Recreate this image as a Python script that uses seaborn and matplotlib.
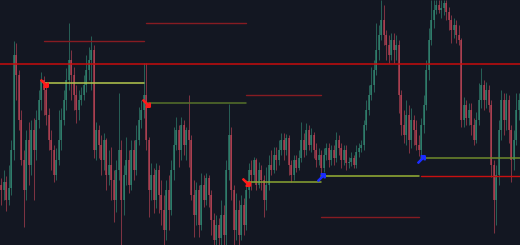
import numpy as np
import pandas as pd
import matplotlib
matplotlib.use("Agg")
import matplotlib.pyplot as plt
import seaborn as sns

# Values, in screen units (0 = top of chart, 245 = bottom)
first_open = 185
close = [
    190, 182, 200, 188, 150, 55, 75, 120, 160, 190,
    140, 165, 130, 150, 120, 100, 80, 90, 115, 140,
    150, 175, 160, 140, 120, 100, 80, 60, 75, 95,
    110, 100, 95, 85, 70, 60, 50, 150, 130, 145,
    160, 140, 175, 165, 180, 200, 170, 150, 200, 175,
    160, 185, 150, 170, 140, 120, 110, 95, 140, 190,
    175, 200, 170, 195, 210, 230, 190, 210, 170, 145,
    130, 150, 125, 145, 130, 140, 195, 215, 190, 225,
    185, 200, 178, 195, 220, 240, 225, 238, 215, 235,
    170, 135, 190, 230, 210, 235, 205, 225, 190, 170,
    175, 160, 185, 170, 180, 200, 185, 165, 170, 155,
    160, 150, 140, 150, 138, 165, 175, 160, 168, 158,
    140, 150, 130, 145, 135, 150, 160, 155, 168, 155,
    148, 160, 150, 158, 140, 148, 160, 150, 163, 162,
    158, 165, 152, 148, 145, 125, 110, 95, 85, 70,
    50, 35, 20, 35, 45, 55, 40, 50, 45, 95,
    125, 135, 115, 140, 120, 130, 145, 150, 125, 105,
    70, 40, 20, 10, 5, 10, 8, 3, 12, 20,
    30, 25, 35, 40, 120, 105, 118, 110, 125, 140,
    120, 100, 85, 100, 90, 105, 165, 200, 175, 130,
    100, 120, 100, 130, 160, 140, 110, 100,
]
high = [
    178, 170, 176, 165, 140, 41, 43, 70, 110, 150,
    130, 122, 120, 118, 110, 90, 72, 76, 82, 108,
    130, 145, 148, 110, 108, 90, 68, 23, 50, 67,
    85, 90, 87, 75, 55, 47, 36, 45, 122, 125,
    135, 133, 138, 150, 147, 170, 160, 93, 140, 165,
    137, 150, 140, 140, 125, 107, 100, 63, 63, 137,
    163, 168, 163, 165, 180, 195, 180, 175, 160, 127,
    117, 125, 117, 120, 127, 95, 135, 180, 182, 185,
    173, 175, 173, 175, 190, 213, 215, 218, 200, 205,
    160, 104, 127, 185, 193, 200, 195, 198, 180, 163,
    160, 157, 158, 162, 165, 175, 167, 155, 150, 147,
    147, 140, 133, 133, 134, 135, 160, 155, 155, 150,
    122, 133, 123, 125, 128, 132, 143, 148, 150, 148,
    143, 143, 145, 145, 132, 135, 143, 145, 145, 157,
    152, 155, 145, 143, 140, 120, 100, 85, 67, 60,
    23, 25, 0, 5, 30, 35, 33, 33, 35, 40,
    90, 110, 100, 105, 108, 115, 120, 135, 118, 95,
    60, 28, 0, 0, 0, 0, 0, 0, 0, 7,
    15, 18, 20, 25, 38, 97, 100, 103, 103, 118,
    112, 83, 68, 80, 82, 85, 100, 160, 165, 120,
    90, 93, 93, 95, 125, 130, 93, 93,
]
low = [
    205, 200, 211, 205, 195, 160, 100, 130, 165, 227,
    200, 185, 175, 200, 160, 128, 110, 115, 125, 150,
    170, 182, 180, 165, 150, 125, 110, 90, 100, 110,
    123, 120, 105, 100, 92, 80, 90, 158, 160, 158,
    175, 170, 190, 185, 200, 222, 212, 180, 245, 215,
    185, 193, 190, 180, 175, 145, 128, 118, 150, 217,
    200, 213, 208, 213, 225, 245, 240, 230, 215, 180,
    150, 167, 160, 155, 160, 167, 200, 237, 225, 237,
    230, 207, 205, 207, 235, 245, 245, 245, 245, 245,
    245, 180, 200, 245, 240, 245, 240, 235, 230, 198,
    190, 182, 190, 188, 190, 217, 210, 190, 175, 173,
    170, 165, 155, 160, 155, 175, 182, 180, 172, 170,
    162, 157, 155, 150, 152, 158, 167, 165, 174, 172,
    160, 167, 165, 165, 162, 155, 168, 165, 170, 168,
    166, 168, 168, 157, 152, 150, 130, 115, 100, 92,
    75, 60, 40, 45, 60, 63, 60, 63, 60, 113,
    135, 143, 145, 153, 148, 145, 150, 156, 156, 133,
    110, 80, 45, 28, 14, 13, 18, 15, 20, 30,
    43, 38, 43, 45, 127, 127, 125, 125, 135, 145,
    143, 125, 108, 110, 108, 112, 177, 233, 225, 185,
    140, 135, 130, 143, 182, 170, 145, 120,
]

# Support / resistance levels (start candle, end candle, level)
seg_start = [17, 58, 98, 128, 168]
seg_end = [57, 98, 128, 167, 207.5]
upper_level = [41, 23, 95, 217, 176]
upper_color = ["#861c22", "#861c22", "#861c22", "#861c22", "#c81010"]
lower_level = [83, 103, 182, 176, 158]
lower_color = ["#b4c84e", "#56722a", "#8aa532", "#98b135", "#6f8a2c"]
marker_dir = ["down", "down", "down", "up", "up"]
main_level = 64

df = pd.DataFrame({"close": close, "high": high, "low": low})
df["open"] = [first_open] + close[:-1]
df["idx"] = np.arange(len(df))
df["up"] = df["close"] < df["open"]   # screen units: smaller = higher price

BG = "#131722"
sns.set_theme(style="dark", rc={"axes.facecolor": BG, "figure.facecolor": BG})

fig = plt.figure(figsize=(5.2, 2.45), dpi=100)
ax = fig.add_axes([0, 0, 1, 1])
ax.set_facecolor(BG)

GREEN = "#35917a"
RED = "#c9485a"
colors = np.where(df["up"], GREEN, RED)

ax.vlines(df["idx"], df["high"], df["low"], colors=colors, linewidth=0.6, alpha=0.7, zorder=2)
body_lo = np.minimum(df["open"], df["close"])
body_h = np.abs(df["open"] - df["close"]).clip(lower=1)
ax.bar(df["idx"], body_h, bottom=body_lo, width=0.65, color=colors, alpha=0.62,
       linewidth=0, zorder=3)

# full-width resistance
ax.axhline(main_level, color="#c80c0c", linewidth=1.1, zorder=4)

for s, e, u, uc, l, lc, d in zip(seg_start, seg_end, upper_level, upper_color,
                                  lower_level, lower_color, marker_dir):
    seg_u = pd.DataFrame({"x": [s, e], "y": [u, u]})
    seg_l = pd.DataFrame({"x": [s, e], "y": [l, l]})
    sns.lineplot(data=seg_u, x="x", y="y", ax=ax, color=uc, linewidth=1.0, zorder=4)
    sns.lineplot(data=seg_l, x="x", y="y", ax=ax, color=lc, linewidth=1.1, zorder=4)
    if d == "down":
        ax.plot([s], [l], marker="$\u2198$", color="#ff1a1a", markersize=5.5, zorder=6)
    else:
        ax.plot([s], [l + 1], marker="$\u2197$", color="#1a2cff", markersize=5.5, zorder=6)

ax.set_xlim(-0.5, len(df) - 0.5)
ax.set_ylim(245, 0)
ax.set_xticks([])
ax.set_yticks([])
ax.set_xlabel("")
ax.set_ylabel("")
for sp in ax.spines.values():
    sp.set_visible(False)
ax.grid(False)

fig.savefig("out.png", dpi=100, facecolor=BG)
